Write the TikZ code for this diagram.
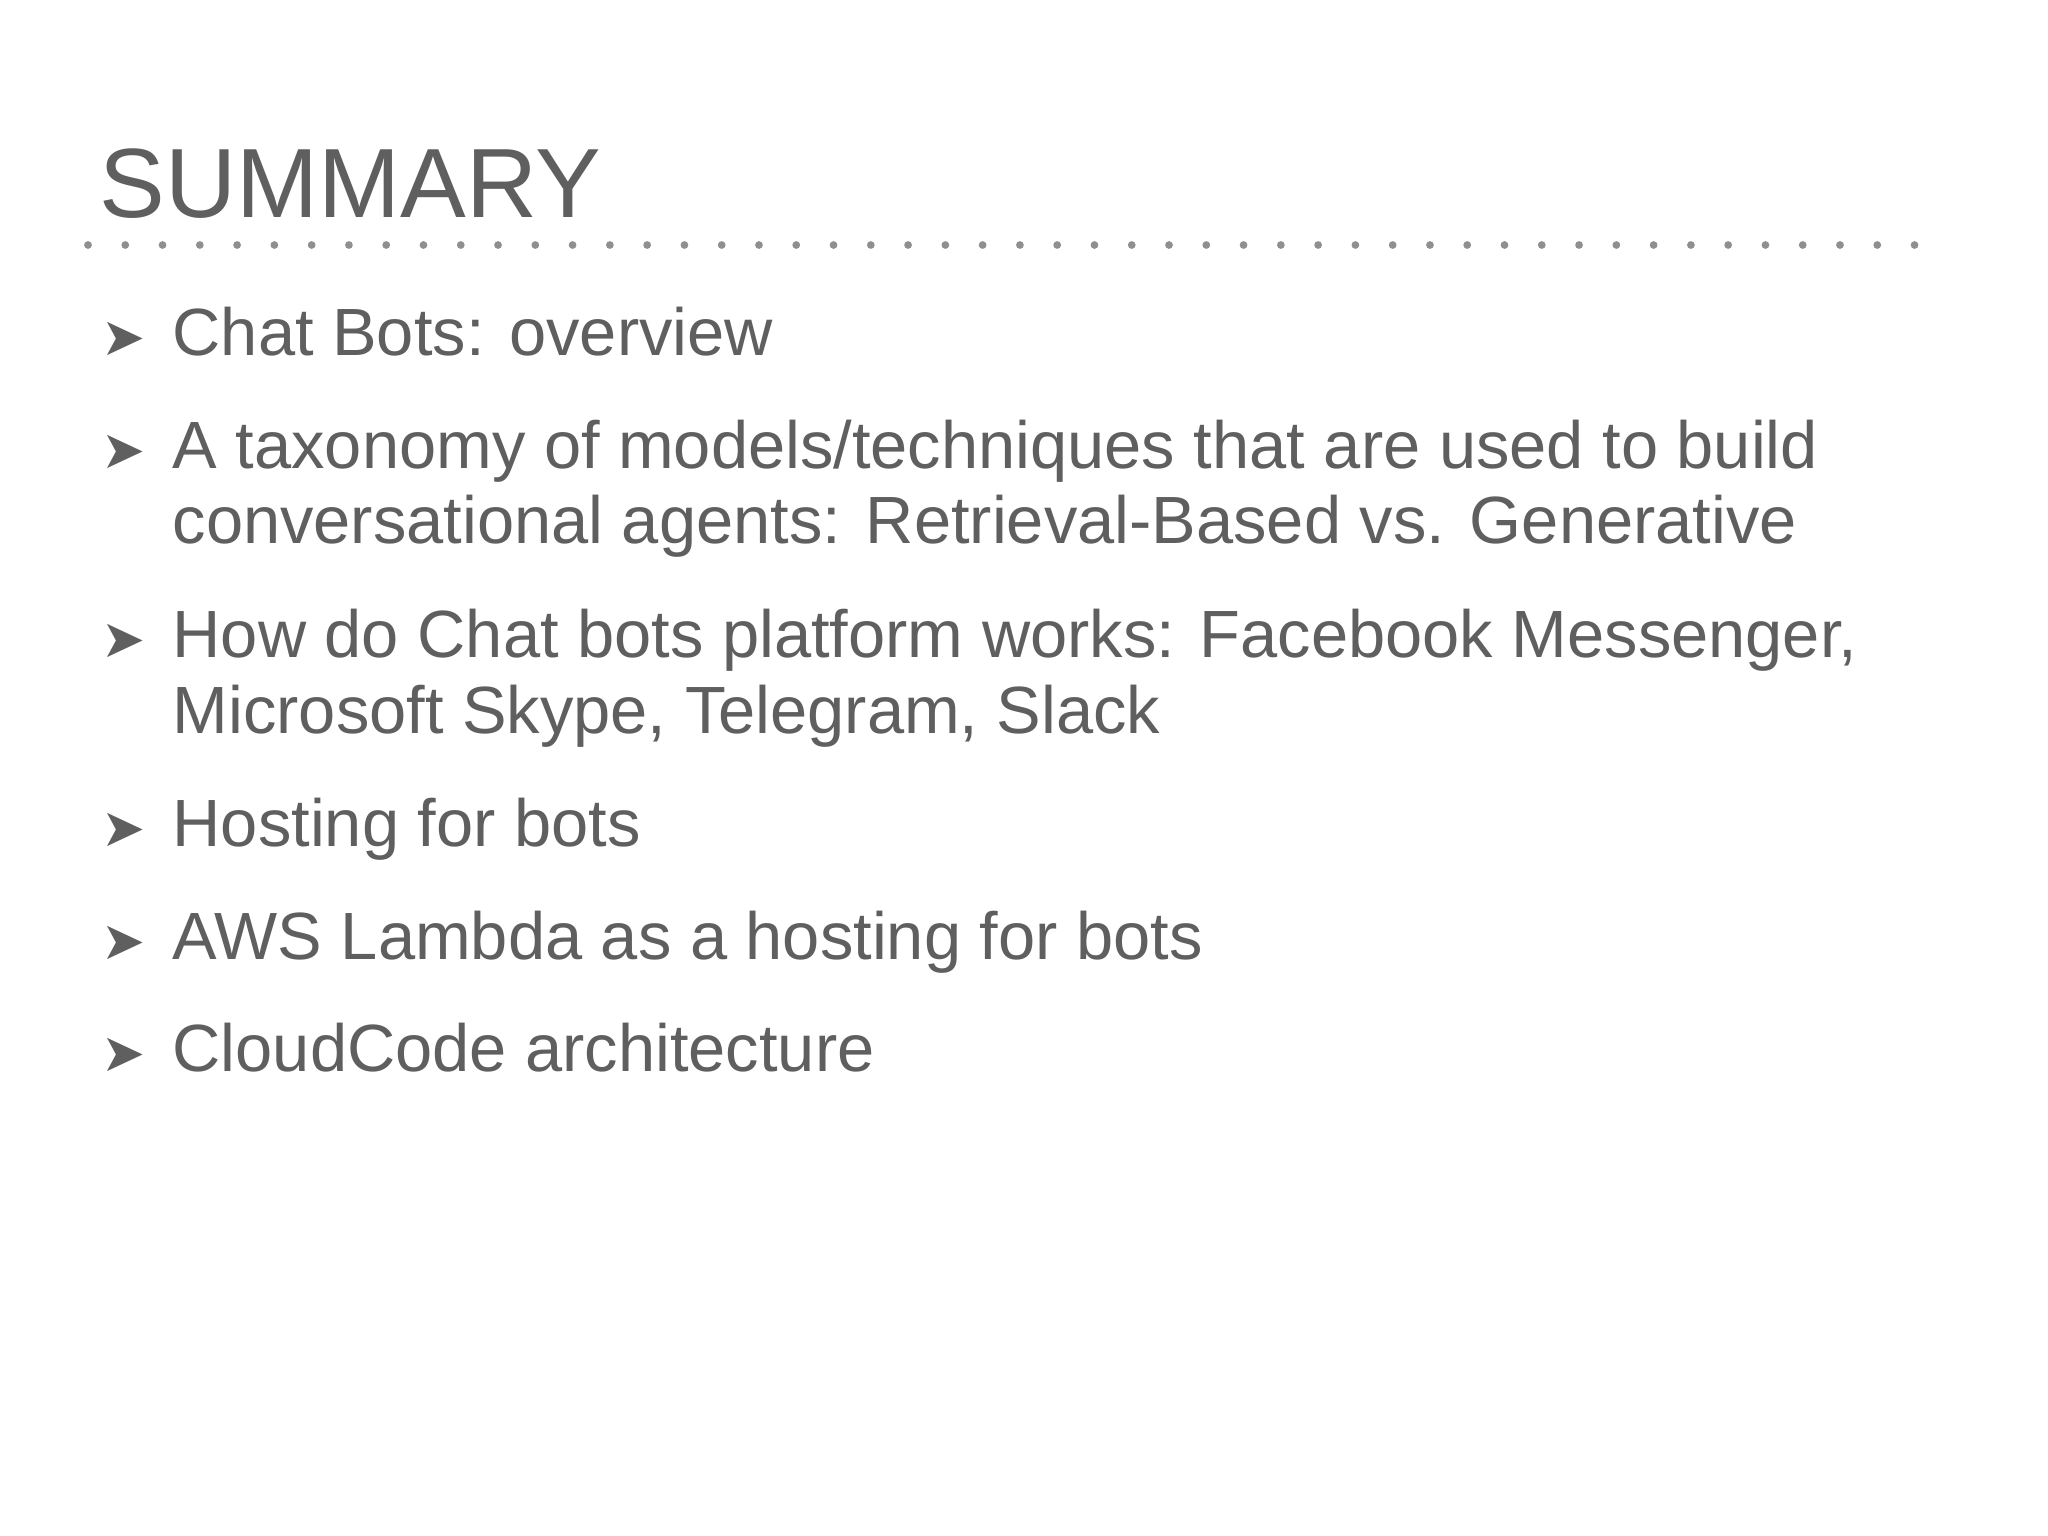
\documentclass[tikz,border=0pt]{standalone}
\usepackage{fontspec}
\setmainfont{Liberation Sans}
\newfontfamily\symfont{DejaVu Sans}
\definecolor{txt}{HTML}{5F5F5F}
\begin{document}
\begin{tikzpicture}[x=0.01cm,y=-0.01cm,
  item/.style={anchor=base west,inner sep=0pt,text=txt,font=\fontsize{19}{22}\selectfont},
  bul/.style={anchor=base west,inner sep=0pt,text=txt,font=\symfont\fontsize{15}{18}\selectfont}]
\useasboundingbox[fill=white] (0,0) rectangle (2048,1536);
\node[anchor=base west,inner sep=0pt,text=txt,font=\fontsize{28}{32}\selectfont] (title) at (99,217) {SUMMARY};
\draw[txt!70,line width=2.2pt,line cap=round,dash pattern=on 0pt off 10.6pt] (88,245) -- (1951,245);
\foreach \y/\t [count=\i] in {355/{Chat Bots: overview},
  468/{A taxonomy of models/techniques that are used to build},
  657/{How do Chat bots platform works: Facebook Messenger,},
  846/{Hosting for bots},
  959/{AWS Lambda as a hosting for bots},
  1071/{CloudCode architecture}}{
  \node[bul] (b\i) at (101,\y) {➤};
  \node[item] (t\i) at (172,\y) {\t};
}
\node[item] (t2b) at (172,543) {conversational agents: Retrieval-Based vs. Generative};
\node[item] (t3b) at (172,733) {Microsoft Skype, Telegram, Slack};
\end{tikzpicture}
\end{document}
